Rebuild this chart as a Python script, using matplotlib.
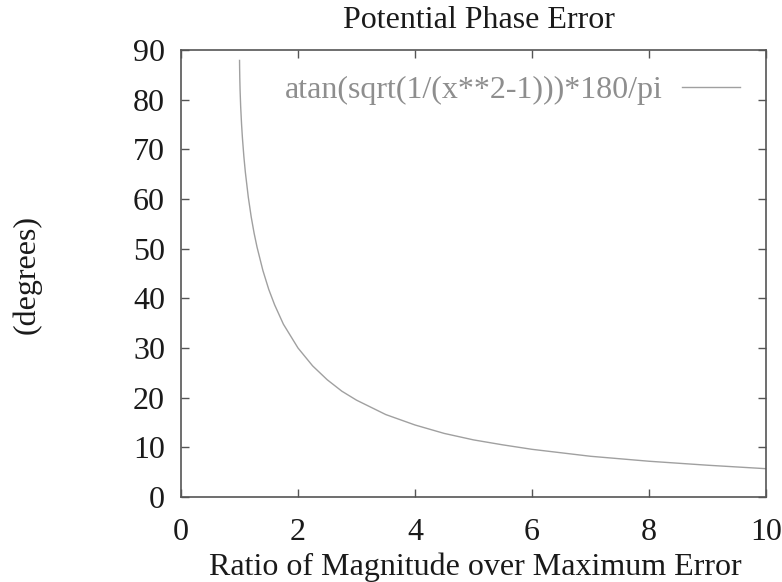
import matplotlib
matplotlib.use('Agg')
import matplotlib.pyplot as plt

# values
ratio = [1.0007, 1.002, 1.005, 1.01, 1.02, 1.035, 1.05, 1.075, 1.1, 1.15, 1.2, 1.25, 1.3, 1.4,
         1.5, 1.6, 1.75, 2.0, 2.25, 2.5, 2.75, 3.0, 3.5, 4.0, 4.5, 5.0, 5.5, 6.0, 7.0, 8.0, 9.0, 10.0]
phase = [87.9, 86.4, 84.3, 81.9, 78.6, 75.1, 72.3, 68.5, 65.4, 60.4, 56.4, 53.1, 50.3, 45.6,
         41.8, 38.7, 34.8, 30.0, 26.4, 23.6, 21.3, 19.5, 16.6, 14.5, 12.8, 11.5, 10.5, 9.6, 8.2,
         7.2, 6.4, 5.7]
legend_label = 'atan(sqrt(1/(x**2-1)))*180/pi'

W, H = 782, 582
FS = 23
TXT = '#1a1a1a'

plt.rcParams['font.family'] = ['Liberation Serif', 'DejaVu Serif']

fig = plt.figure(figsize=(W / 100, H / 100), dpi=100)
ax = fig.add_axes([181 / W, 1 - 497 / H, (766 - 181) / W, (497 - 50) / H])

ax.plot(ratio, phase, color='#a0a0a0', lw=1.0, label=legend_label)

ax.set_xlim(0, 10)
ax.set_ylim(0, 90)
ax.set_xticks([0, 2, 4, 6, 8, 10])
ax.set_yticks(range(0, 91, 10))
ax.tick_params(direction='in', length=6, width=1, top=True, right=True,
               labelsize=FS, colors='#555', labelcolor=TXT)
ax.tick_params(axis='x', pad=15)
ax.tick_params(axis='y', pad=11.5)
for s in ax.spines.values():
    s.set_color('#555')
    s.set_linewidth(1.2)

# title and axis labels placed where the reference has them
fig.text(479 / W, 1 - 28 / H, 'Potential Phase Error', fontsize=FS, color=TXT,
         ha='center', va='baseline')
fig.text(475 / W, 1 - 575 / H, 'Ratio of Magnitude over Maximum Error', fontsize=FS,
         color=TXT, ha='center', va='baseline')
fig.text(27 / W, 1 - 274 / H, '(degrees)', fontsize=FS, color=TXT, rotation=90,
         ha='center', va='center')

leg = ax.legend(loc='upper right', frameon=False, fontsize=FS, handlelength=1.82,
                markerfirst=False, borderaxespad=0.4, handletextpad=0.6)
for t in leg.get_texts():
    t.set_color('#8e8e8e')

fig.savefig('out.png', dpi=100)
